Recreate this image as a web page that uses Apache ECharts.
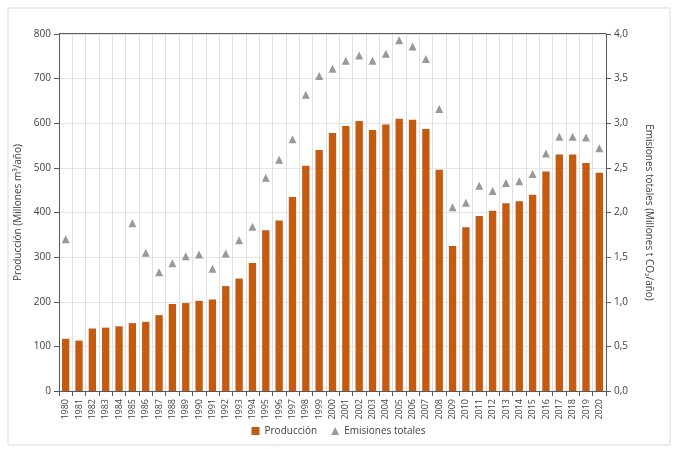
<!DOCTYPE html><html><head><meta charset="utf-8"><script src="https://cdn.jsdelivr.net/npm/echarts@6/dist/echarts.min.js"></script>
<style>body{margin:0}#c{width:677px;height:449px}</style></head><body>
<div id="c"></div><script>
const years=[];for(let y=1980;y<=2020;y++)years.push(String(y));
const produccion=[117,113,140,142,145,152,155,170,195,197,202,205,235,252,287,360,382,435,505,540,578,594,605,585,597,610,608,587,496,325,367,392,404,421,425,440,492,530,530,511,489];
const emisiones=[1.70,null,null,null,null,1.88,1.55,1.33,1.43,1.51,1.53,1.37,1.54,1.69,1.84,2.39,2.59,2.82,3.32,3.53,3.61,3.70,3.76,3.70,3.78,3.93,3.86,3.72,3.16,2.06,2.11,2.30,2.24,2.33,2.35,2.43,2.66,2.85,2.85,2.84,2.72];
const leftTicks=[0,100,200,300,400,500,600,700,800];
const ch=echarts.init(document.getElementById('c'));
const f='Open Sans, sans-serif';
ch.setOption({
 graphic:[{type:'rect',shape:{x:8,y:8,width:662,height:437},style:{fill:'none',stroke:'#d9d9d9',lineWidth:1}},
          {type:'line',shape:{x1:59,y1:34,x2:606,y2:34},style:{stroke:'#595959',lineWidth:2}}],
 grid:{left:59,right:71,top:34,bottom:58},
 legend:{bottom:8,left:'center',itemWidth:8,itemHeight:8,itemGap:14,textStyle:{fontFamily:f,fontSize:10,color:'#404040'},
   data:[{name:'Producción',icon:'rect'},{name:'Emisiones totales',icon:'triangle'}]},
 xAxis:{type:'category',data:years,axisLine:{lineStyle:{color:'#595959'}},axisTick:{show:true,lineStyle:{color:'#595959'}},
   axisLabel:{rotate:90,interval:0,fontFamily:f,fontSize:9,color:'#404040'},splitLine:{show:true,lineStyle:{color:'#e0e0e0'}}},
 yAxis:[{type:'value',min:0,max:800,interval:100,name:'Producción (Millones m³/año)',nameLocation:'middle',nameGap:32,nameRotate:90,
   nameTextStyle:{fontFamily:f,fontSize:10,color:'#404040'},axisLine:{show:true,lineStyle:{color:'#595959'}},axisTick:{show:true},
   axisLabel:{fontFamily:f,fontSize:10,color:'#404040',formatter:v=>leftTicks.includes(v)?String(v):''},splitLine:{lineStyle:{color:'#e6e6e6'}}},
  {type:'value',min:0,max:4,interval:0.5,name:'Emisiones totales (Millones t CO₂/año)',nameLocation:'middle',nameGap:38,nameRotate:-90,
   nameTextStyle:{fontFamily:f,fontSize:10,color:'#404040'},axisLine:{show:true,lineStyle:{color:'#595959'}},axisTick:{show:true},
   axisLabel:{fontFamily:f,fontSize:10,color:'#404040',formatter:v=>v.toFixed(1).replace('.',',')},splitLine:{show:false}}],
 series:[{name:'Producción',type:'bar',data:produccion,barWidth:'55%',itemStyle:{color:'#c55a11'}},
  {name:'Emisiones totales',type:'scatter',yAxisIndex:1,data:emisiones,symbol:'triangle',symbolSize:8,itemStyle:{color:'#7f7f7f'}}]
});
</script></body></html>
